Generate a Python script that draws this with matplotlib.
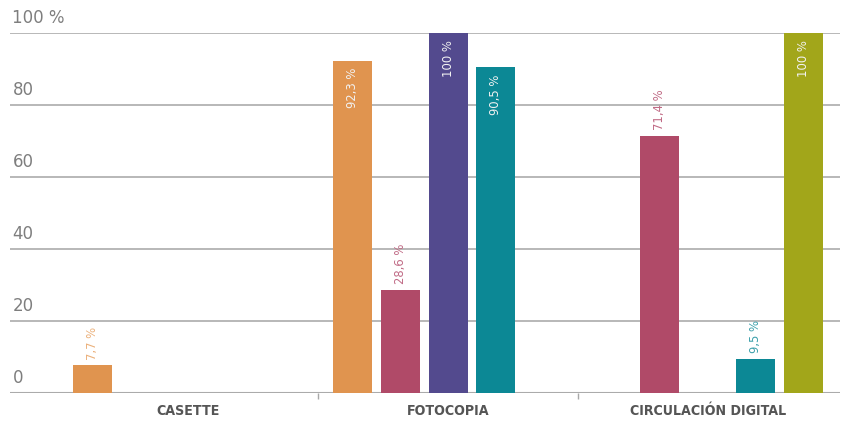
import matplotlib.pyplot as plt
import numpy as np

categories = ['CASETTE', 'FOTOCOPIA', 'CIRCULACIÓN DIGITAL']
naranja = [7.7, 92.3, 0]
granate = [0, 28.6, 71.4]
morado = [0, 100, 0]
turquesa = [0, 90.5, 9.5]
oliva = [0, 0, 100]
yticks = [0, 20, 40, 60, 80, 100]
ytick_labels = ['0', '20', '40', '60', '80', '100 %']

series = [naranja, granate, morado, turquesa, oliva]
colors = ['#E0944F', '#B04A68', '#534A8E', '#0C8895', '#A2A61A']
label_colors = ['#EBB07A', '#C06A85', '#7A72AA', '#3A9FAA', '#B8BB4A']

plt.rcParams['font.family'] = ['DejaVu Sans']

fig = plt.figure(figsize=(8.43, 4.22), dpi=100)
ax = fig.add_axes([10 / 843, 29 / 422, 830 / 843, 360 / 422])

x = np.arange(len(categories))
step = 0.1846
width = 0.15

for i, (vals, c, lc) in enumerate(zip(series, colors, label_colors)):
    pos = x + (i - 2) * step
    ax.bar(pos, vals, width=width, color=c, zorder=3)
    for p, v in zip(pos, vals):
        if v == 0:
            continue
        txt = f'{v:g} %'.replace('.', ',')
        if v > 85:
            ax.annotate(txt, (p, v), xytext=(0, -5), textcoords='offset points',
                        rotation=90, ha='center', va='top', fontsize=9.3,
                        stretch='condensed', color='#F2F2F2', zorder=4)
        else:
            ax.annotate(txt, (p, v), xytext=(0, 4), textcoords='offset points',
                        rotation=90, ha='center', va='bottom', fontsize=9.3,
                        stretch='condensed', color=lc, zorder=4)

# horizontal grid lines with labels sitting above them
for t, lab in zip(yticks, ytick_labels):
    ax.axhline(t, color='#ABABAB', lw=1.5 if t == 0 else 1.2, zorder=1)
    ax.text(0.003, t + 1.6, lab, transform=ax.get_yaxis_transform(),
            ha='left', va='bottom', fontsize=12, color='#7E7E7E')

ax.set_xlim(-0.685, 2.508)
ax.set_ylim(0, 100)
ax.set_yticks([])
ax.set_xticks(x)
ax.set_xticklabels(categories, fontsize=10.2, fontweight='bold',
                   fontstretch='condensed', color='#555555')
ax.set_xticks([0.5, 1.5], minor=True)
ax.tick_params(axis='x', which='major', length=0, pad=8)
ax.tick_params(axis='x', which='minor', length=4, color='#A8A8A8', width=1)
for s in ax.spines.values():
    s.set_visible(False)

plt.savefig('out.png', dpi=100)
plt.close()
